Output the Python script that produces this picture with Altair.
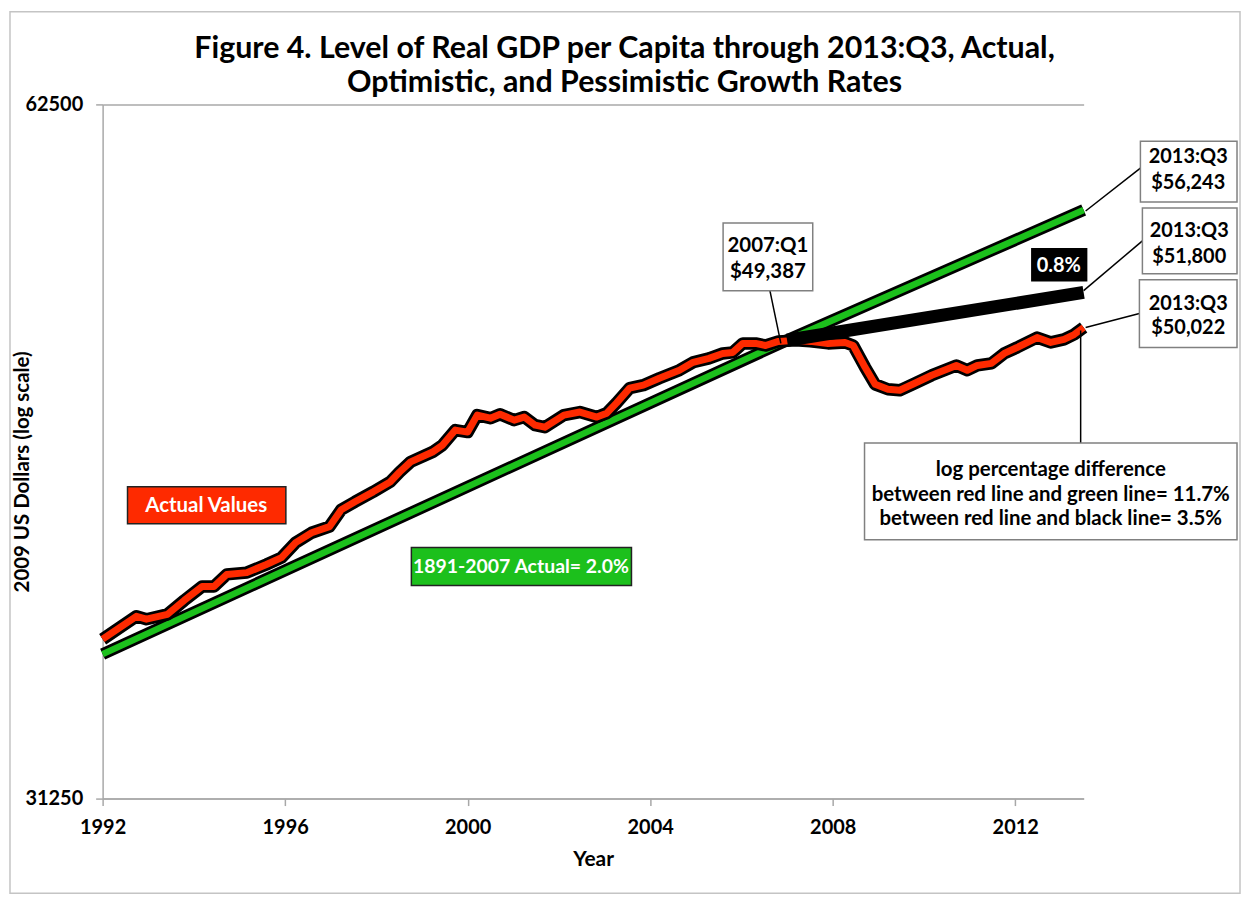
import altair as alt
import pandas as pd

# ---------------- data ----------------
red_years = [1992.0, 1992.74, 1992.96, 1993.42, 1993.79, 1994.18, 1994.44, 1994.72, 1995.16, 1995.59,
             1995.92, 1996.23, 1996.58, 1996.97, 1997.23, 1997.53, 1997.93, 1998.30, 1998.51, 1998.75,
             1999.23, 1999.45, 1999.73, 2000.00, 2000.21, 2000.50, 2000.71, 2001.02, 2001.24, 2001.48,
             2001.69, 2002.11, 2002.46, 2002.83, 2003.05, 2003.26, 2003.55, 2003.85, 2004.20, 2004.64,
             2004.94, 2005.29, 2005.59, 2005.81, 2006.03, 2006.31, 2006.53, 2006.81, 2007.19, 2007.51,
             2007.90, 2008.27, 2008.45, 2008.71, 2008.93, 2009.21, 2009.47, 2009.80, 2010.17, 2010.71,
             2010.95, 2011.17, 2011.48, 2011.76, 2012.04, 2012.48, 2012.78, 2013.07, 2013.29, 2013.50]
red_values = [36640, 37490, 37380, 37560, 38090, 38620, 38620, 39090, 39160, 39480,
              39750, 40350, 40750, 41000, 41700, 42030, 42450, 42870, 43300, 43740,
              44170, 44480, 45150, 45060, 45830, 45690, 45870, 45600, 45740, 45370,
              45280, 45830, 45970, 45740, 45920, 46380, 47080, 47220, 47550, 47930,
              48310, 48500, 48740, 48790, 49230, 49230, 49130, 49330, 49380, 49330,
              49230, 49280, 49130, 48070, 47260, 47030, 46980, 47310, 47690, 48160,
              47930, 48160, 48260, 48740, 49030, 49520, 49280, 49430, 49670, 50022]

green_years = [1992.0, 2007.0, 2013.5]
green_values = [36100, 49387, 56243]

black_years = [2007.0, 2013.5]
black_values = [49387, 51800]

x_ticks = [1992, 1996, 2000, 2004, 2008, 2012]
y_ticks = [31250, 62500]

title_lines = ["Figure 4. Level of Real GDP per Capita through 2013:Q3, Actual,",
               "Optimistic, and Pessimistic Growth Rates"]
y_title = "2009 US Dollars (log scale)"
x_title = "Year"

red_df = pd.DataFrame({"year": red_years, "value": red_values})
green_df = pd.DataFrame({"year": green_years, "value": green_values})
black_df = pd.DataFrame({"year": black_years, "value": black_values})
one = pd.DataFrame({"k": [0]})

RED = "#fe2a00"
GREEN = "#1cc01c"
FONT = "Lato"
AXIS_GREY = "#a8a8a8"

xscale = alt.Scale(domain=[1992, 2013.5], nice=False, zero=False)
yscale = alt.Scale(type="log", domain=[31250, 62500], nice=False)

x_axis = alt.Axis(values=x_ticks, format="d", title=None, grid=False, labelFlush=False,
                  labelFont=FONT, labelFontWeight="bold", labelFontSize=20, labelColor="black",
                  domainColor=AXIS_GREY, domainWidth=1.5, tickColor=AXIS_GREY, tickWidth=1.5,
                  tickSize=7, labelPadding=12)
y_axis = alt.Axis(values=y_ticks, format="d", title=None, grid=True, gridColor=AXIS_GREY,
                  gridWidth=1.5, labelFlush=False,
                  labelFont=FONT, labelFontWeight="bold", labelFontSize=20, labelColor="black",
                  domainColor=AXIS_GREY, domainWidth=1.5, tickColor=AXIS_GREY, tickWidth=1.5,
                  tickSize=7, labelPadding=13)


def line_layer(df, color, width):
    x = alt.X("year:Q", scale=xscale, axis=x_axis)
    y = alt.Y("value:Q", scale=yscale, axis=y_axis)
    return alt.Chart(df).mark_line(color=color, strokeWidth=width, strokeCap="butt",
                                   strokeJoin="round").encode(x=x, y=y, order="year:Q")


def box(x1, y1, x2, y2, fill, stroke, sw=1.5):
    return alt.Chart(one).mark_rect(fill=fill, stroke=stroke, strokeWidth=sw).encode(
        x=alt.value(x1), x2=alt.value(x2), y=alt.value(y1), y2=alt.value(y2))


def label(x, y, txt, size=20, color="black", angle=0):
    return alt.Chart(one).mark_text(text=txt, font=FONT, fontWeight="bold", fontSize=size,
                                    color=color, align="center", baseline="middle",
                                    angle=angle).encode(x=alt.value(x), y=alt.value(y))


def leader(x1, y1, x2, y2):
    return alt.Chart(one).mark_rule(color="black", strokeWidth=1.5).encode(
        x=alt.value(x1), x2=alt.value(x2), y=alt.value(y1), y2=alt.value(y2))


border = alt.Chart(one).mark_rect(fillOpacity=0, fill="white", stroke="#c4c4c4",
                                  strokeWidth=1.5).encode(
    x=alt.value(-93), x2=alt.value(1142), y=alt.value(-93), y2=alt.value(792))

layers = [
    line_layer(green_df, "black", 12),
    line_layer(green_df, GREEN, 6.5),
    line_layer(red_df, "black", 12.5),
    line_layer(red_df, RED, 7),
    line_layer(black_df, "black", 13),
    border,
    # title and axis titles
    label(524, -56, title_lines[0], size=30.5),
    label(524, -21, title_lines[1], size=30.5),
    label(-80, 369, y_title, size=20.5, angle=270),
    label(493, 759, x_title, size=21),
    # Actual Values
    box(25, 384, 184, 421, RED, "#222222"),
    label(104, 403, "Actual Values", size=20.5, color="white"),
    # green label
    box(310, 445, 531, 483, GREEN, "#222222"),
    label(420, 464, "1891-2007 Actual= 2.0%", size=19.5, color="white"),
    # 0.8%
    box(933, 145, 988, 177, "black", "black"),
    label(960, 162, "0.8%", size=20, color="white"),
    # 2007:Q1
    leader(670, 187, 681, 240),
    box(623, 119, 713, 187, "white", "#808080"),
    label(668, 142, "2007:Q1", size=20.5),
    label(668, 168, "$49,387", size=20.5),
    # right boxes
    leader(987, 107, 1042, 64),
    box(1042, 37, 1139, 98, "white", "#808080"),
    label(1090, 53, "2013:Q3", size=20),
    label(1090, 79, "$56,243", size=20),
    leader(985, 187, 1044, 137),
    box(1044, 104, 1139, 170, "white", "#808080"),
    label(1091, 127, "2013:Q3", size=20),
    label(1091, 153, "$51,800", size=20),
    leader(987, 224, 1041, 210),
    box(1041, 176, 1139, 244, "white", "#808080"),
    label(1090, 200, "2013:Q3", size=20),
    label(1090, 225, "$50,022", size=20),
    # difference box
    leader(982, 227, 982, 340),
    box(765, 340, 1139, 437, "white", "#808080"),
    label(952, 367, "log percentage difference", size=20.5),
    label(952, 392, "between red line and green line= 11.7%", size=20.5),
    label(952, 416, "between red line and black line= 3.5%", size=20.5),
]

chart = alt.layer(*layers).properties(
    width=985, height=697,
    autosize=alt.AutoSizeParams(type="none"),
    padding={"left": 95, "top": 95, "right": 158, "bottom": 96},
    background="white",
).configure_view(strokeWidth=0)

chart.save("out.html", embed_options={"renderer": "svg", "actions": False})
